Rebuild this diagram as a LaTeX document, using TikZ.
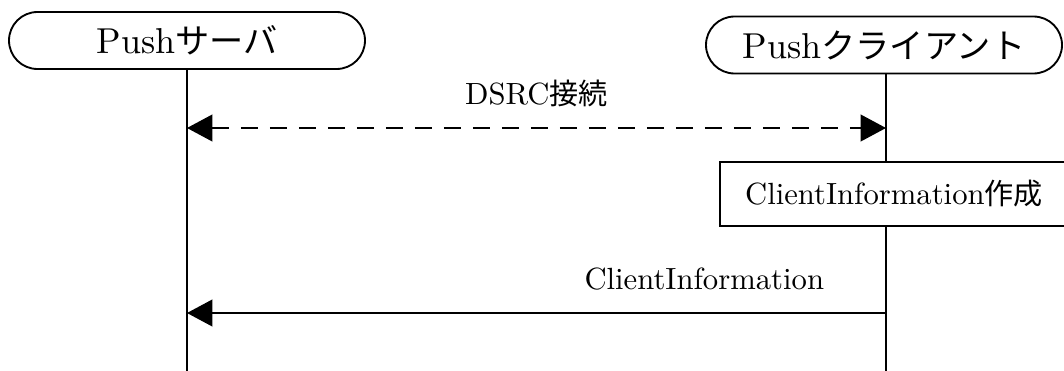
\documentclass[tikz,border=0pt]{standalone}
\usepackage{fontspec}
\setmainfont{lmroman10-regular}[Extension=.otf]
\newfontfamily\jp{Noto Sans CJK JP}[Scale=0.95]
\usetikzlibrary{arrows.meta,shapes.misc,positioning}

\begin{document}
\begin{tikzpicture}[x=0.75pt, y=-0.75pt, line width=1.4pt,
 >={Triangle[length=19pt,width=20pt]},
 actor/.style = {draw, rounded rectangle, fill=white, minimum height=42.75pt,
                 minimum width=267pt, inner sep=0pt,
                 font=\fontsize{27}{30}\selectfont},
  proc/.style = {draw, rectangle, fill=white, minimum height=48pt,
                 minimum width=261pt, inner sep=0pt,
                 font=\fontsize{23}{26}\selectfont},
   msg/.style = {anchor=base, yshift=17.5pt, inner sep=0pt,
                 font=\fontsize{23}{26}\selectfont},
 async/.style = {dash pattern=on 12.75pt off 9pt},
                        ]
    \useasboundingbox (0,0) rectangle (1064,371);

    \node [actor]               (srv)     at (187,40.5) {Push{\jp サーバ}};
    \node [actor]               (cli)     at (884,45)   {Push{\jp クライアント}};

    \coordinate (srvEnd) at (187,371);
    \coordinate (cliEnd) at (886,371);
    \coordinate (dsrcS)  at (187,128);
    \coordinate (dsrcC)  at (886,128);
    \coordinate (infoS)  at (187,313);
    \coordinate (infoC)  at (886,313);

    \draw (srv.south) -- (srvEnd);
    \draw (cliEnd |- cli.south) -- (cliEnd);

    \node [proc]                (mk)      at (894,194)  {ClientInformation{\jp 作成}};

    \draw [<->, async] (dsrcS) -- node [msg] {DSRC{\jp 接続}} (dsrcC);
    \draw [->]         (infoC) -- node [msg, pos=0.26] {ClientInformation} (infoS);
\end{tikzpicture}
\end{document}
